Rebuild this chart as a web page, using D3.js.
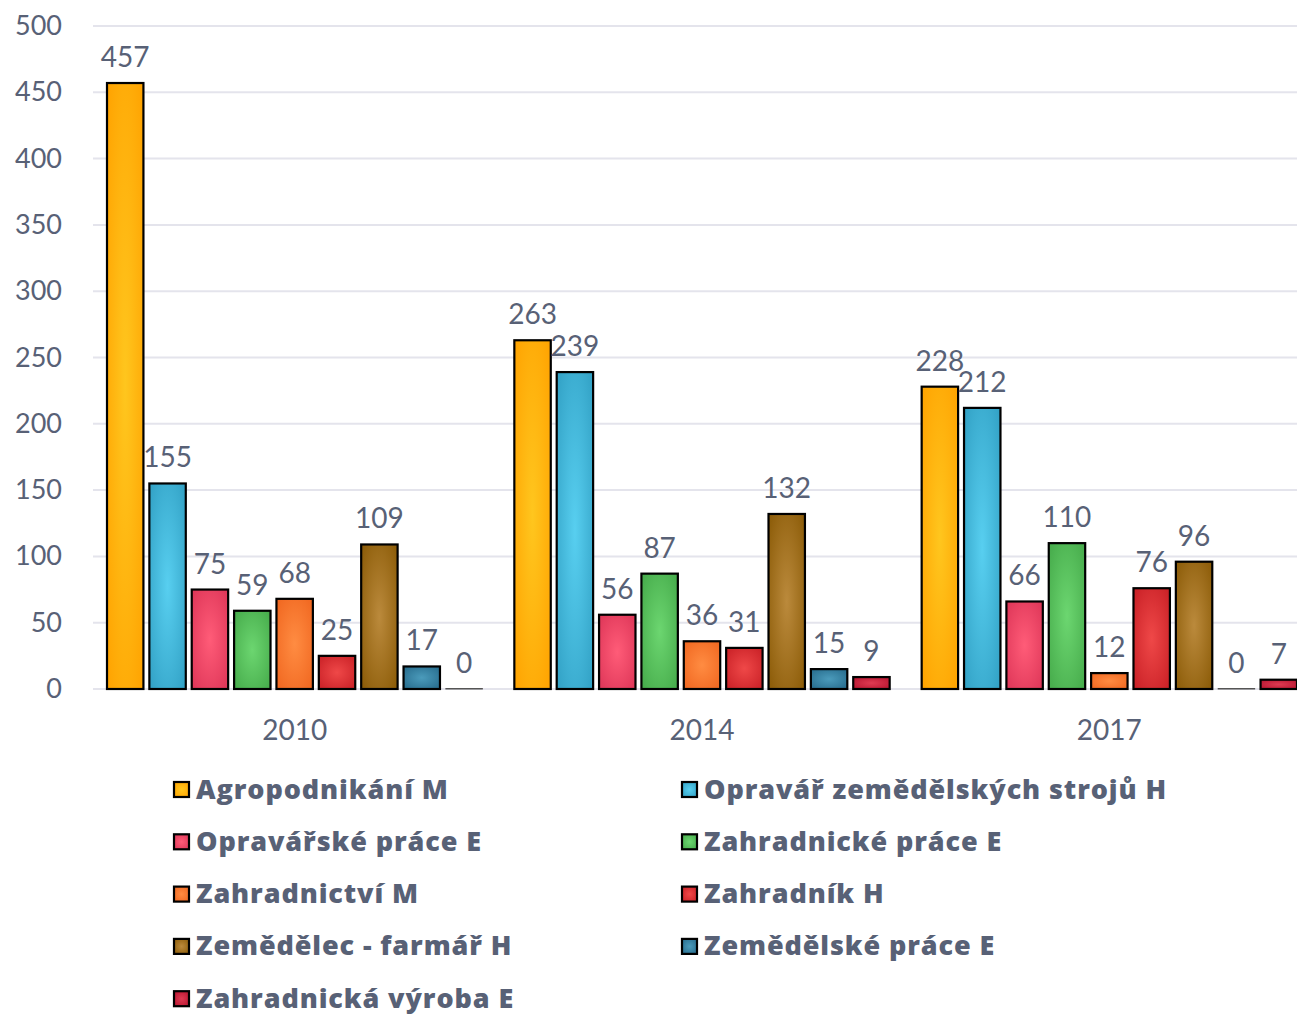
<!DOCTYPE html>
<html>
<head>
<meta charset="utf-8">
<script src="https://cdn.jsdelivr.net/npm/d3@7"></script>
<style>
	body { margin: 0; background: #fff; }
	svg text { font-family: Lato, "Open Sans", sans-serif; fill: #586176; }
	svg text.legend { font-family: "Open Sans", Lato, sans-serif; }
</style>
</head>
<body>
<div class="chart"></div>
<script>
const years = ['2010', '2014', '2017']
const seriesNames = [
	'Agropodnikání M',
	'Opravář zemědělských strojů H',
	'Opravářské práce E',
	'Zahradnické práce E',
	'Zahradnictví M',
	'Zahradník H',
	'Zemědělec - farmář H',
	'Zemědělské práce E',
	'Zahradnická výroba E'
]
const values2010 = [457, 155, 75, 59, 68, 25, 109, 17, 0]
const values2014 = [263, 239, 56, 87, 36, 31, 132, 15, 9]
const values2017 = [228, 212, 66, 110, 12, 76, 96, 0, 7]
const yTicks = [0, 50, 100, 150, 200, 250, 300, 350, 400, 450, 500]
// [edge, center] colours per series
const seriesColors = [
	['#ffa200', '#ffc61e'],
	['#31a0c4', '#58cff0'],
	['#dd3557', '#ff5c78'],
	['#45aa4a', '#6cd670'],
	['#f0661f', '#ff8c42'],
	['#c81f25', '#ef4848'],
	['#8a5a06', '#bb8a3c'],
	['#25698a', '#4b9bbb'],
	['#b5122e', '#de3b52']
]

const valuesByYear = [values2010, values2014, values2017]
const W = 1297, H = 1015

const svg = d3.select('.chart').append('svg')
	.attr('width', W).attr('height', H)

const defs = svg.append('defs')
seriesColors.forEach((c, i) => {
	const g = defs.append('radialGradient')
		.attr('id', 'grad' + i)
		.attr('cx', '50%').attr('cy', '50%').attr('r', '70%')
	g.append('stop').attr('offset', '0%').attr('stop-color', c[1])
	g.append('stop').attr('offset', '100%').attr('stop-color', c[0])
})

const y = d3.scaleLinear().domain([0, 500]).range([689, 26])
const x0 = d3.scaleBand().domain(years).range([91, 1313])
const x1 = d3.scaleBand().domain(d3.range(seriesNames.length))
	.range([16, x0.bandwidth() - 16]).paddingInner(0.14)

// grid
svg.append('g').selectAll('line').data(yTicks).join('line')
	.attr('x1', 93).attr('x2', W)
	.attr('y1', d => y(d)).attr('y2', d => y(d))
	.attr('stroke', '#e4e4ec').attr('stroke-width', 2)

svg.append('g').selectAll('text').data(yTicks).join('text')
	.attr('x', 62).attr('y', d => y(d) + 9)
	.attr('text-anchor', 'end')
	.attr('font-size', 27)
	.text(d => d)

// bars
const groups = svg.append('g').selectAll('g').data(years).join('g')
	.attr('transform', d => `translate(${x0(d)},0)`)

groups.each(function (yr, gi) {
	const g = d3.select(this)
	const vals = valuesByYear[gi].map((v, i) => ({ v, i }))
	g.selectAll('rect').data(vals).join('rect')
		.attr('x', d => x1(d.i))
		.attr('y', d => Math.min(y(d.v), y(0) - 0.5))
		.attr('width', x1.bandwidth())
		.attr('height', d => Math.max(y(0) - y(d.v), 0.5))
		.attr('fill', d => `url(#grad${d.i})`)
		.attr('stroke', d => d.v === 0 ? '#555' : '#000')
		.attr('stroke-width', d => d.v === 0 ? 1 : 2.2)
	g.selectAll('text.val').data(vals).join('text')
		.attr('class', 'val')
		.attr('x', d => x1(d.i) + x1.bandwidth() / 2)
		.attr('y', d => y(d.v) - 16)
		.attr('text-anchor', 'middle')
		.attr('font-size', 28)
		.text(d => d.v)
	g.append('text')
		.attr('x', x0.bandwidth() / 2)
		.attr('y', 740)
		.attr('text-anchor', 'middle')
		.attr('font-size', 28)
		.text(yr)
})

// legend
const legend = svg.append('g').selectAll('g').data(seriesNames).join('g')
	.attr('transform', (d, i) => `translate(${i % 2 === 0 ? 173 : 681},${789 + Math.floor(i / 2) * 52.3})`)
legend.append('rect')
	.attr('x', 1).attr('y', -7).attr('width', 15).attr('height', 15)
	.attr('fill', (d, i) => `url(#grad${i})`)
	.attr('stroke', '#000').attr('stroke-width', 2.2)
legend.append('text')
	.attr('class', 'legend')
	.attr('x', 23).attr('y', 9.5)
	.attr('font-size', 27).attr('font-weight', 800)
	.attr('letter-spacing', 0.9)
	.text(d => d)
</script>
</body>
</html>
